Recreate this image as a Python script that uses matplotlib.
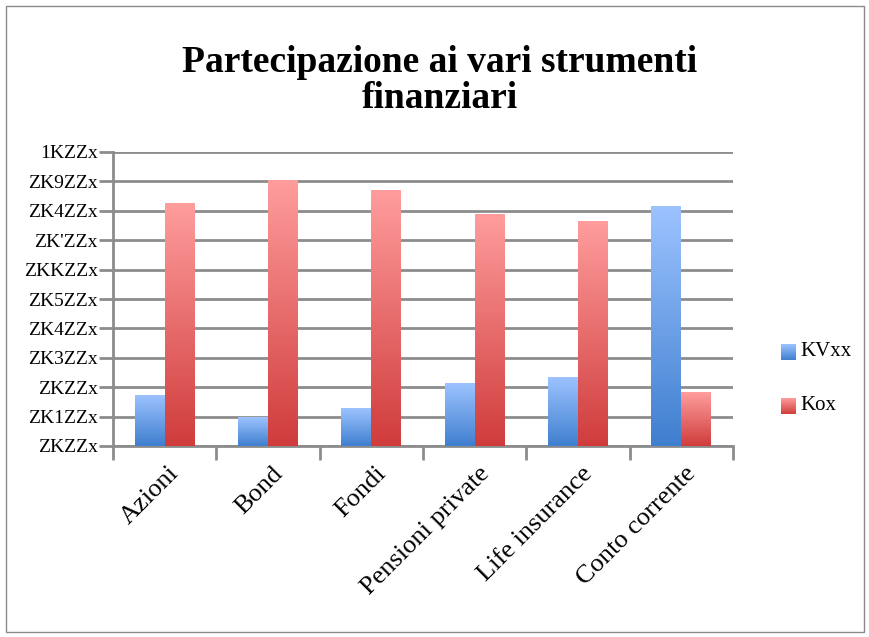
import numpy as np
import matplotlib
matplotlib.use("Agg")
import matplotlib.pyplot as plt
from matplotlib.colors import LinearSegmentedColormap
from matplotlib.patches import Rectangle
from matplotlib.transforms import ScaledTranslation

categories = ["Azioni", "Bond", "Fondi", "Pensioni private", "Life insurance", "Conto corrente"]
serie_si = [0.175, 0.098, 0.128, 0.214, 0.234, 0.817]
serie_no = [0.826, 0.905, 0.872, 0.790, 0.765, 0.183]
legend_labels = ["KVxx", "Kox"]
ytick_values = [0.0, 0.1, 0.2, 0.3, 0.4, 0.5, 0.6, 0.7, 0.8, 0.9, 1.0]
ytick_labels = ["ZKZZx", "ZK1ZZx", "ZKZZx", "ZK3ZZx", "ZK4ZZx", "ZK5ZZx",
                "ZKKZZx", "ZK'ZZx", "ZK4ZZx", "ZK9ZZx", "1KZZx"]

SERIF = "Liberation Serif"
GRID = "#8c8c8c"

blue_cmap = LinearSegmentedColormap.from_list("blu", ["#3f7fcf", "#9dc3ff"])
red_cmap = LinearSegmentedColormap.from_list("rosso", ["#d03c3c", "#ff9d9d"])
grad = np.linspace(0, 1, 256).reshape(-1, 1)

fig = plt.figure(figsize=(8.69, 6.37), dpi=100)
ax = fig.add_axes([113 / 869, 1 - 446 / 637, 620 / 869, 294 / 637])

x = np.arange(len(categories))
w = 0.29
bars_si = ax.bar(x - w / 2, serie_si, w, color="#6a9fe6", zorder=2)
bars_no = ax.bar(x + w / 2, serie_no, w, color="#e87070", zorder=2)

for bars, cmap in ((bars_si, blue_cmap), (bars_no, red_cmap)):
    for b in bars:
        bx, bw, bh = b.get_x(), b.get_width(), b.get_height()
        im = ax.imshow(grad, cmap=cmap, origin="lower", aspect="auto",
                       extent=[bx, bx + bw, 0, bh], zorder=3)
        im.set_clip_path(b)

ax.set_xlim(-0.5, len(categories) - 0.5)
ax.set_ylim(0, 1.0)

# griglia e assi
ax.set_yticks(ytick_values)
ax.set_yticklabels(ytick_labels, fontsize=14, family=SERIF)
ax.yaxis.grid(True, color=GRID, linewidth=2, zorder=0)
ax.set_axisbelow(True)
ax.tick_params(axis="y", length=10, width=2, color=GRID, direction="out", pad=1)
ax.set_xticks(np.arange(len(categories) + 1) - 0.5)
ax.set_xticklabels([])
ax.tick_params(axis="x", length=10, width=2, color=GRID, direction="out")
for s in ("top", "right"):
    ax.spines[s].set_visible(False)
for s in ("left", "bottom"):
    ax.spines[s].set_color(GRID)
    ax.spines[s].set_linewidth(2)

# etichette categorie ruotate
lab_t = ax.get_xaxis_transform() + ScaledTranslation(11 / 100, -24 / 100, fig.dpi_scale_trans)
for xi, c in zip(x, categories):
    ax.text(xi, 0, c, transform=lab_t, rotation=45, rotation_mode="anchor",
            ha="right", va="center", fontsize=19, family=SERIF, clip_on=False)

# titolo
fig.text(440 / 869, 1 - 62 / 637, "Partecipazione ai vari strumenti", ha="center", va="center",
         fontsize=27, fontweight="bold", family=SERIF)
fig.text(440 / 869, 1 - 99 / 637, "finanziari", ha="center", va="center",
         fontsize=27, fontweight="bold", family=SERIF)

# legenda manuale
for i, (lab, cmap) in enumerate(zip(legend_labels, (blue_cmap, red_cmap))):
    cy = 352 + i * 54
    sq = fig.add_axes([781 / 869, 1 - (cy + 8) / 637, 15 / 869, 16 / 637])
    sq.imshow(grad, cmap=cmap, origin="lower", aspect="auto")
    sq.set_axis_off()
    fig.text(800 / 869, 1 - cy / 637, lab, ha="left", va="center", fontsize=15, family=SERIF)

# cornice esterna
fig.patches.append(Rectangle((6 / 869, 5 / 637), 858 / 869, 626 / 637, transform=fig.transFigure,
                             fill=False, edgecolor="#8a8a8a", linewidth=1))

fig.savefig("out.png", dpi=100)
